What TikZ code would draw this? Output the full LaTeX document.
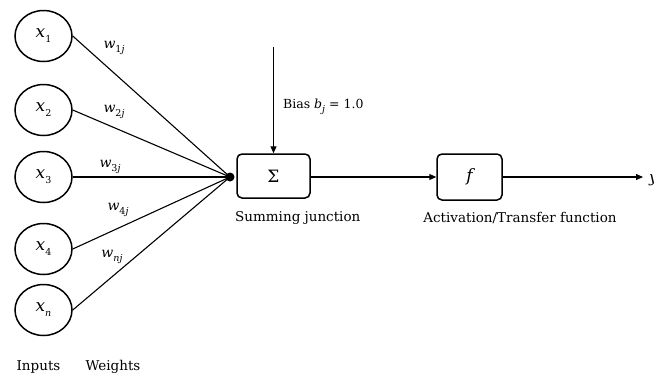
\documentclass[tikz,border=0pt]{standalone}
\usepackage{fontspec}
\setmainfont{DejaVu Serif}
\usetikzlibrary{arrows.meta,shapes.geometric}
\newcommand\sbs[1]{\raisebox{-0.3em}{\fontsize{9.5}{9.5}\selectfont #1}}
\begin{document}
\begin{tikzpicture}[x=1pt,y=-1pt,
  inp/.style={draw,line width=1.5pt,ellipse,minimum width=57pt,minimum height=51pt,inner sep=0pt,font=\fontsize{17}{17}\selectfont},
  wlab/.style={inner sep=0pt,font=\fontsize{14}{14}\selectfont},
  blk/.style={draw,line width=1.5pt,rounded corners=5pt,inner sep=0pt,font=\fontsize{17}{17}\selectfont},
  captxt/.style={inner sep=0pt,font=\fontsize{13.5}{13.5}\selectfont},
  conn/.style={line width=1.1pt},
  arr/.style={line width=1.1pt,-{Triangle[length=7pt,width=6pt]}}]
\useasboundingbox (0,0) rectangle (654,376);
\node[inp] (x1) at (43.5,36) {{\itshape x}\sbs{1}};
\node[inp] (x2) at (43.5,110) {{\itshape x}\sbs{2}};
\node[inp] (x3) at (43.5,177) {{\itshape x}\sbs{3}};
\node[inp] (x4) at (43.5,249) {{\itshape x}\sbs{4}};
\node[inp] (xn) at (43.5,310) {{\itshape x}\sbs{\itshape n}};
\node[circle,fill,inner sep=0pt,minimum size=9pt] (jn) at (230,177) {};
\foreach \n in {x1,x2,x3,x4,xn} \draw[conn] (\n.east) -- (jn.center);
\node[wlab] (w1) at (114,48) {{\itshape w}\sbs{1\itshape j}};
\node[wlab] (w2) at (114,112) {{\itshape w}\sbs{2\itshape j}};
\node[wlab] (w3) at (110,167) {{\itshape w}\sbs{3\itshape j}};
\node[wlab] (w4) at (118,210) {{\itshape w}\sbs{4\itshape j}};
\node[wlab] (wn) at (112,257) {{\itshape w}\sbs{\itshape nj}};
\node[blk,minimum width=73pt,minimum height=44pt] (sum) at (273.5,176) {Σ};
\node[blk,minimum width=65pt,minimum height=46pt] (f) at (469.5,177) {\itshape f};
\coordinate (btop) at (273.5,47);
\draw[arr] (btop) -- (sum.north);
\node[captxt,anchor=west,font=\fontsize{12.5}{12.5}\selectfont] (bias) at (283,107) {Bias {\itshape b}\sbs{\itshape j} = 1.0};
\draw[arr] (sum.east |- f.west) -- (f.west);
\coordinate (out) at (643,177);
\draw[arr] (f.east) -- (out);
\node[anchor=west,inner sep=0pt,font=\fontsize{15}{15}\selectfont\itshape] (y) at (649,180) {y};
\node[captxt,anchor=west] (sj) at (235,218) {Summing junction};
\node[captxt] (atf) at (520,218) {Activation/Transfer function};
\node[captxt] (inl) at (38.5,367) {Inputs};
\node[captxt] (wl) at (113,367) {Weights};
\end{tikzpicture}
\end{document}
